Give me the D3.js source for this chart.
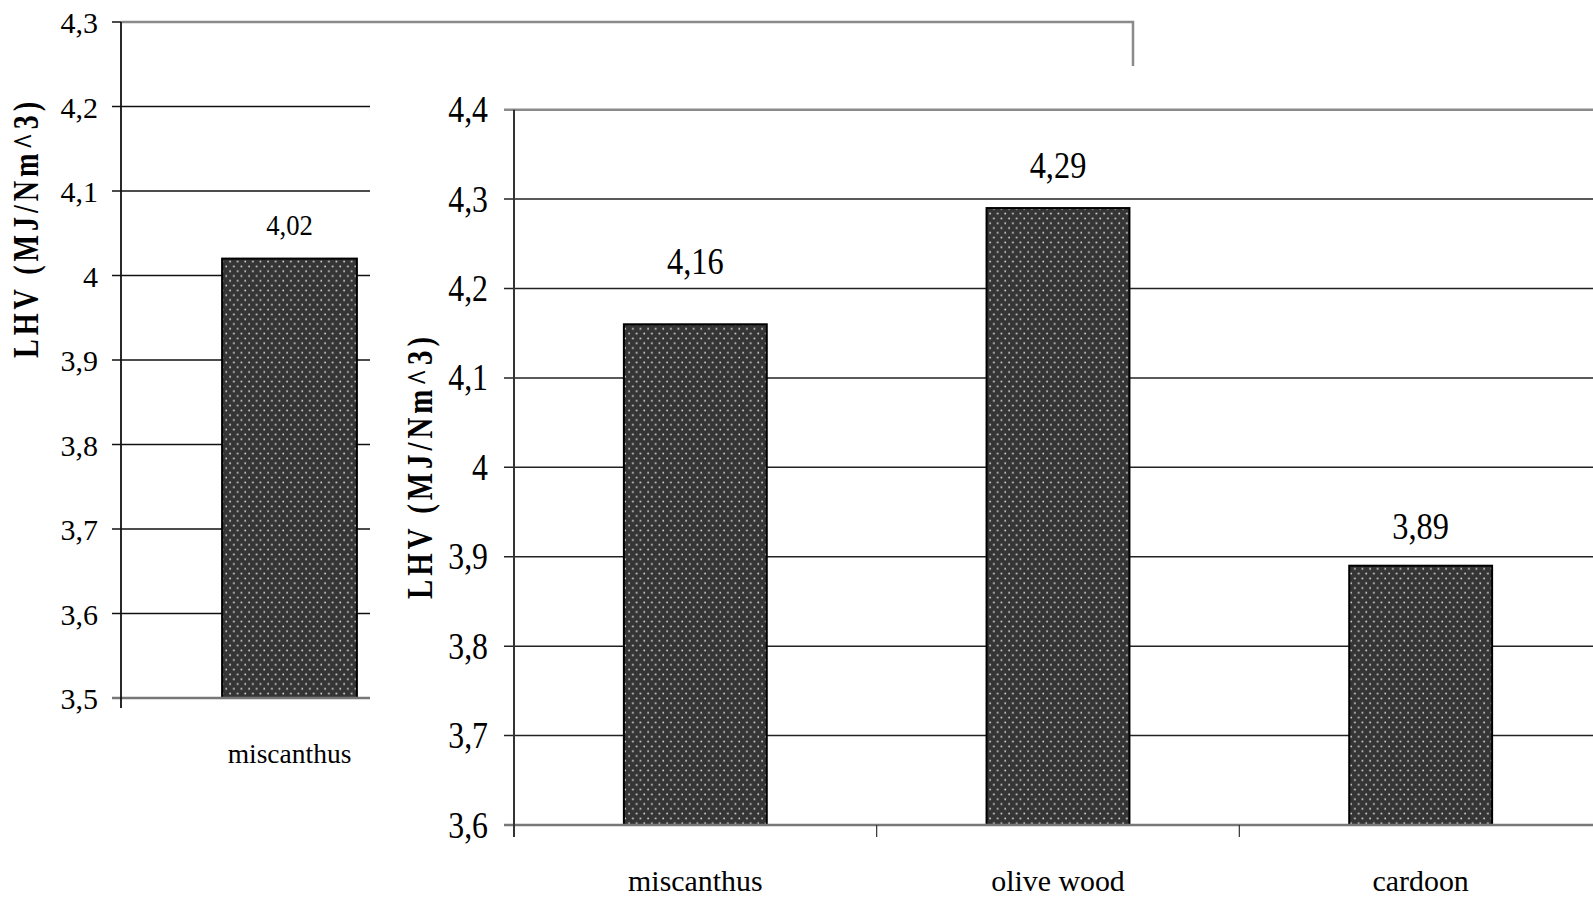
<!DOCTYPE html>
<html>
<head>
<meta charset="utf-8">
<script src="https://cdn.jsdelivr.net/npm/d3@7"></script>
<style>
  body { margin: 0; background: #fff; }
  svg { display: block; font-family: "Liberation Serif", "Times New Roman", serif; }
</style>
</head>
<body>
<svg id="grafico" width="1593" height="899"></svg>
<script>
// dados
var catEsq = ["miscanthus"],
    valEsq = [4.02],
    ticksEsq = [3.5, 3.6, 3.7, 3.8, 3.9, 4.0, 4.1, 4.2, 4.3]

var catDir = ["miscanthus", "olive wood", "cardoon"],
    valDir = [4.16, 4.29, 3.89],
    ticksDir = [3.6, 3.7, 3.8, 3.9, 4.0, 4.1, 4.2, 4.3, 4.4]

var tituloY = "LHV (MJ/Nm^3)"

var virgula = d3.formatLocale({decimal: ",", thousands: ".", grouping: [3], currency: ["", ""]}),
    fmtTick = virgula.format(".1~f"),
    fmtVal = virgula.format(".2f")

var svg = d3.select("#grafico")

// padrao pontilhado das barras
var pat = svg.append("defs").append("pattern")
    .attr("id", "pontos")
    .attr("patternUnits", "userSpaceOnUse")
    .attr("width", 7.6)
    .attr("height", 9.6)
pat.append("rect").attr("width", 7.6).attr("height", 9.6).attr("fill", "#353535")
pat.append("rect").attr("x", 1.3).attr("y", 1.6).attr("width", 1.6).attr("height", 1.6).attr("fill", "#e6e6e6")
pat.append("rect").attr("x", 5.1).attr("y", 6.4).attr("width", 1.6).attr("height", 1.6).attr("fill", "#e6e6e6")

function texto(g, x, y, txt, tam, sx, ancora) {
    return g.append("text")
        .attr("transform", "translate(" + x + "," + y + ") scale(" + sx + ",1)")
        .attr("text-anchor", ancora)
        .style("font-size", tam + "px")
        .attr("fill", "#000")
        .text(txt)
}

function tituloEixo(g, x, y, comp) {
    g.append("text")
        .attr("transform", "translate(" + x + "," + y + ") rotate(-90)")
        .attr("text-anchor", "middle")
        .attr("textLength", comp)
        .attr("lengthAdjust", "spacingAndGlyphs")
        .style("font-size", "36px")
        .style("font-weight", "bold")
        .style("letter-spacing", "5px")
        .text(tituloY)
}

// grafico da esquerda (fica por baixo)
var esq = {left: 121, right: 458, top: 22, bottom: 698}

var yE = d3.scaleLinear().domain([3.5, 4.3]).range([esq.bottom, esq.top])
var xE = d3.scaleBand().domain(catEsq).range([esq.left, esq.right])
    .paddingInner(0.6).paddingOuter(0.3)

var gE = svg.append("g")

gE.selectAll(".grade").data(ticksEsq.slice(1, -1)).enter().append("line")
    .attr("x1", esq.left - 9).attr("x2", esq.right)
    .attr("y1", function(d) { return yE(d) }).attr("y2", function(d) { return yE(d) })
    .attr("stroke", "#111").attr("stroke-width", 1.5)

// tick do topo e moldura cinza
gE.append("line")
    .attr("x1", esq.left - 9).attr("x2", esq.left)
    .attr("y1", yE(4.3)).attr("y2", yE(4.3))
    .attr("stroke", "#111").attr("stroke-width", 1.5)
gE.append("path")
    .attr("d", "M" + esq.left + "," + yE(4.3) + "H1133V80")
    .attr("fill", "none").attr("stroke", "#8a8a8a").attr("stroke-width", 2.5)

gE.selectAll(".barra").data(valEsq).enter().append("rect")
    .attr("x", function(d, i) { return xE(catEsq[i]) })
    .attr("width", xE.bandwidth())
    .attr("y", function(d) { return yE(d) })
    .attr("height", function(d) { return yE(3.5) - yE(d) })
    .attr("fill", "url(#pontos)")
    .attr("stroke", "#000").attr("stroke-width", 2)

// linha de base
gE.append("line")
    .attr("x1", esq.left - 9).attr("x2", esq.right)
    .attr("y1", yE(3.5)).attr("y2", yE(3.5))
    .attr("stroke", "#777").attr("stroke-width", 2.5)
gE.append("line")
    .attr("x1", esq.left).attr("x2", esq.left)
    .attr("y1", esq.top).attr("y2", esq.bottom + 10)
    .attr("stroke", "#111").attr("stroke-width", 1.8)

ticksEsq.forEach(function(t) {
    texto(gE, 98, yE(t) + 11, fmtTick(t), 30, 1, "end")
})
valEsq.forEach(function(v, i) {
    texto(gE, xE(catEsq[i]) + xE.bandwidth() / 2, yE(v) - 24, fmtVal(v), 29, 0.92, "middle")
})
catEsq.forEach(function(c) {
    texto(gE, xE(c) + xE.bandwidth() / 2, 763, c, 27.5, 1, "middle")
})
tituloEixo(gE, 38, 228, 260)

// o grafico da direita tapa parte do outro
svg.append("rect")
    .attr("x", 370).attr("y", 66)
    .attr("width", 1593 - 370).attr("height", 899 - 66)
    .attr("fill", "#fff")

// grafico da direita
var dir = {left: 514, right: 1602, top: 109.7, bottom: 825}

var yD = d3.scaleLinear().domain([3.6, 4.4]).range([dir.bottom, dir.top])
var xD = d3.scaleBand().domain(catDir).range([dir.left, dir.right])
    .paddingInner(0.606).paddingOuter(0.303)

var gD = svg.append("g")

gD.selectAll(".grade").data(ticksDir.slice(1, -1)).enter().append("line")
    .attr("x1", dir.left - 10).attr("x2", dir.right)
    .attr("y1", function(d) { return yD(d) }).attr("y2", function(d) { return yD(d) })
    .attr("stroke", "#222").attr("stroke-width", 1.5)
gD.append("line")
    .attr("x1", dir.left - 10).attr("x2", dir.right)
    .attr("y1", yD(4.4)).attr("y2", yD(4.4))
    .attr("stroke", "#8a8a8a").attr("stroke-width", 2.5)

gD.selectAll(".barra").data(valDir).enter().append("rect")
    .attr("x", function(d, i) { return xD(catDir[i]) })
    .attr("width", xD.bandwidth())
    .attr("y", function(d) { return yD(d) })
    .attr("height", function(d) { return yD(3.6) - yD(d) })
    .attr("fill", "url(#pontos)")
    .attr("stroke", "#000").attr("stroke-width", 2)

gD.append("line")
    .attr("x1", dir.left - 10).attr("x2", dir.right)
    .attr("y1", yD(3.6)).attr("y2", yD(3.6))
    .attr("stroke", "#777").attr("stroke-width", 2.5)
gD.append("line")
    .attr("x1", dir.left).attr("x2", dir.left)
    .attr("y1", dir.top).attr("y2", dir.bottom + 12)
    .attr("stroke", "#333").attr("stroke-width", 2)

// ticks entre categorias
catDir.slice(1).forEach(function(c) {
    var xt = xD(c) - xD.step() * xD.paddingInner() / 2
    gD.append("line")
        .attr("x1", xt).attr("x2", xt)
        .attr("y1", dir.bottom).attr("y2", dir.bottom + 12)
        .attr("stroke", "#333").attr("stroke-width", 1.2)
})

ticksDir.forEach(function(t) {
    texto(gD, 488, yD(t) + 12.5, fmtTick(t), 37, 0.86, "end")
})

// altura dos rotulos acima das barras (o primeiro foi deslocado no original)
var elevaRotulo = [50, 30, 27]
valDir.forEach(function(v, i) {
    texto(gD, xD(catDir[i]) + xD.bandwidth() / 2, yD(v) - elevaRotulo[i], fmtVal(v), 37, 0.875, "middle")
})
catDir.forEach(function(c) {
    texto(gD, xD(c) + xD.bandwidth() / 2, 891, c, 30.5, 0.98, "middle")
})
tituloEixo(gD, 432, 466, 266)
</script>
</body>
</html>
